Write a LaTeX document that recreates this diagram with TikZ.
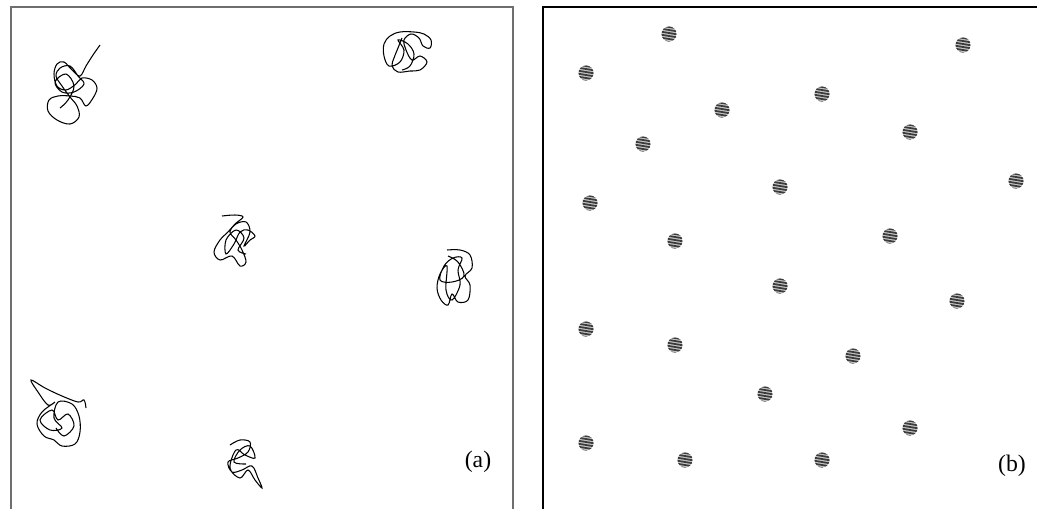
\documentclass[tikz,border=0pt]{standalone}
\usepackage{fontspec}
\setmainfont{Liberation Serif}
\usepackage{tikz}
\usetikzlibrary{positioning}
\definecolor{framegray}{RGB}{110,110,110}
\definecolor{beadfill}{RGB}{200,200,200}
\definecolor{beadline}{RGB}{60,60,60}

\begin{document}
\begin{tikzpicture}[x=0.02cm, y=-0.02cm,
    frame/.style={line width=1.2pt},
    coil/.style={line width=0.6pt, black, smooth, tension=0.6},
    tag/.style={font=\fontsize{13.5}{13.5}\selectfont, inner sep=0pt},
    bead/.pic={
        \begin{scope}
            \clip (0,0) circle (4.3pt);
            \fill[beadfill] (0,0) circle (4.3pt);
            \foreach \k in {-7,-4,...,8}
                \draw[beadline, line width=1pt] (-9,\k-1.5) -- (9,\k+1.5);
        \end{scope}
    }
]
    \useasboundingbox (0,0) rectangle (1037,508);

    % === PANEL (a) : chaines ===
    \draw[frame, framegray] (11,510) -- (11,7) -- (513,7) -- (513,510);
    \node[tag] (taga) at (478,462) {(a)};

    \draw[coil] plot coordinates {(100,45) (93,55) (86,66) (80,76) (72,70) (64,62) (57,64) (54,74) (57,86) (66,90) (76,84) (82,78) (92,80) (97,88) (93,98) (86,106) (80,98) (70,96) (58,96) (49,100) (48,111) (57,120) (70,124) (79,117) (77,106) (70,97) (62,86) (56,76) (60,68) (70,66) (78,76) (84,84) (74,92) (62,92) (55,82) (66,74) (74,86) (68,100) (60,108)};
    \draw[coil] plot coordinates {(402,38) (398,48) (394,58) (392,66) (398,72) (410,71) (420,70) (427,62) (420,56) (412,60) (406,50) (404,40) (411,34) (419,38) (423,46) (430,48) (431,40) (424,34) (414,32) (400,32) (390,36) (384,44) (384,56) (389,66) (400,62) (404,50) (398,40) (408,44) (414,54) (410,66) (402,70)};
    \draw[coil] plot coordinates {(222,216) (235,215) (243,217) (235,224) (228,232) (220,240) (214,252) (220,260) (232,256) (240,266) (246,262) (242,250) (236,240) (230,232) (236,224) (246,222) (250,232) (244,246) (250,240) (255,236) (248,230) (240,232) (234,244) (226,254) (226,240) (236,230) (244,238) (238,250) (246,254)};
    \draw[coil] plot coordinates {(447,250) (460,250) (470,255) (472,268) (465,276) (470,285) (468,300) (458,302) (452,294) (448,305) (441,300) (437,288) (440,274) (447,266) (446,290) (452,300) (460,285) (458,270) (462,258) (453,258) (444,266) (440,280) (452,282) (464,276) (458,262) (448,256)};
    \draw[coil] plot coordinates {(86,408) (84,400) (78,402) (62,396) (45,388) (31,380) (38,392) (48,405) (55,402) (42,412) (37,424) (44,436) (54,440) (62,446) (75,444) (80,432) (79,416) (72,404) (58,402) (54,418) (62,428) (50,430) (40,420) (52,410) (58,420) (68,414) (74,426) (64,436) (56,428)};
    \draw[coil] plot coordinates {(230,445) (240,440) (250,442) (248,452) (238,458) (228,462) (232,472) (242,470) (252,466) (258,478) (262,488) (255,480) (248,470) (240,478) (230,468) (236,450) (245,455) (255,458) (250,446) (240,450) (234,462) (246,464)};

    % === PANEL (b) : globules ===
    \draw[frame, black] (543,510) -- (543,7) -- (1040,7);
    \node[tag] (tagb) at (1012,466) {(b)};

    \foreach \x/\y in {669/34, 963/45, 586/73, 822/94, 722/110, 910/132,
                       643/144, 780/187, 1016/181, 590/203, 890/236, 675/241,
                       780/286, 957/301, 586/329, 675/345, 853/356, 765/394,
                       910/428, 586/443, 685/460, 822/460}
        \pic at (\x,\y) {bead};

\end{tikzpicture}
\end{document}
